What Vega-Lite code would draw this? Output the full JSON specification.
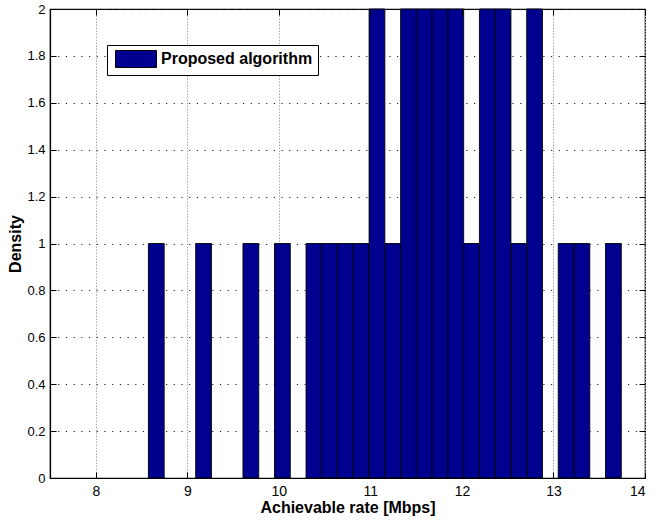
{
  "$schema": "https://vega.github.io/schema/vega-lite/v6.json",
  "width": 595,
  "height": 469,
  "autosize": {"type": "none"},
  "padding": {"left": 50, "top": 9, "right": 9, "bottom": 42},
  "background": "white",
  "config": {
    "font": "Liberation Sans",
    "view": {"stroke": "black", "strokeWidth": 1.2},
    "axis": {
      "labelFont": "Liberation Sans",
      "labelFontSize": 13,
      "labelColor": "black",
      "titleFont": "Liberation Sans",
      "titleFontSize": 16,
      "titleFontWeight": "bold",
      "titleColor": "black",
      "domainColor": "black",
      "domainWidth": 1.2,
      "tickColor": "black",
      "tickWidth": 1
    }
  },
  "data": {
    "values": [
      {"lo": 8.575, "hi": 8.7472, "count": 1, "series": "Proposed algorithm"},
      {"lo": 9.0916, "hi": 9.2638, "count": 1, "series": "Proposed algorithm"},
      {"lo": 9.6082, "hi": 9.7804, "count": 1, "series": "Proposed algorithm"},
      {"lo": 9.9526, "hi": 10.1248, "count": 1, "series": "Proposed algorithm"},
      {"lo": 10.297, "hi": 10.4692, "count": 1, "series": "Proposed algorithm"},
      {"lo": 10.4692, "hi": 10.6414, "count": 1, "series": "Proposed algorithm"},
      {"lo": 10.6414, "hi": 10.8136, "count": 1, "series": "Proposed algorithm"},
      {"lo": 10.8136, "hi": 10.9858, "count": 1, "series": "Proposed algorithm"},
      {"lo": 10.9858, "hi": 11.158, "count": 2, "series": "Proposed algorithm"},
      {"lo": 11.158, "hi": 11.3302, "count": 1, "series": "Proposed algorithm"},
      {"lo": 11.3302, "hi": 11.5024, "count": 2, "series": "Proposed algorithm"},
      {"lo": 11.5024, "hi": 11.6746, "count": 2, "series": "Proposed algorithm"},
      {"lo": 11.6746, "hi": 11.8468, "count": 2, "series": "Proposed algorithm"},
      {"lo": 11.8468, "hi": 12.019, "count": 2, "series": "Proposed algorithm"},
      {"lo": 12.019, "hi": 12.1912, "count": 1, "series": "Proposed algorithm"},
      {"lo": 12.1912, "hi": 12.3634, "count": 2, "series": "Proposed algorithm"},
      {"lo": 12.3634, "hi": 12.5356, "count": 2, "series": "Proposed algorithm"},
      {"lo": 12.5356, "hi": 12.7078, "count": 1, "series": "Proposed algorithm"},
      {"lo": 12.7078, "hi": 12.88, "count": 2, "series": "Proposed algorithm"},
      {"lo": 13.0522, "hi": 13.2244, "count": 1, "series": "Proposed algorithm"},
      {"lo": 13.2244, "hi": 13.3966, "count": 1, "series": "Proposed algorithm"},
      {"lo": 13.5688, "hi": 13.741, "count": 1, "series": "Proposed algorithm"}
    ]
  },
  "layer": [
    {
      "mark": {"type": "bar", "stroke": "black", "strokeWidth": 0.9},
      "encoding": {
        "x": {
          "field": "lo",
          "type": "quantitative",
          "scale": {"domain": [7.5, 14], "nice": false, "zero": false},
          "axis": {
            "title": "Achievable rate [Mbps]",
            "values": [8, 9, 10, 11, 12, 13, 14],
            "format": "d",
            "labelFontSize": 14,
            "tickSize": -6,
            "labelPadding": 12,
            "titlePadding": 1,
            "grid": true,
            "gridColor": "#a8a8a8",
            "gridDash": [1.5, 1.5],
            "gridWidth": 1,
            "zindex": 0
          }
        },
        "x2": {"field": "hi"},
        "y": {
          "field": "count",
          "type": "quantitative",
          "scale": {"domain": [0, 2], "nice": false},
          "axis": {
            "title": "Density",
            "values": [0, 0.2, 0.4, 0.6, 0.8, 1, 1.2, 1.4, 1.6, 1.8, 2],
            "format": "~g",
            "tickSize": -6,
            "labelPadding": 11,
            "titlePadding": 3,
            "grid": true,
            "gridColor": "#222222",
            "gridDash": [1.2, 6.5],
            "gridWidth": 1,
            "zindex": 0
          }
        },
        "y2": {"datum": 0},
        "color": {
          "field": "series",
          "type": "nominal",
          "scale": {"range": ["#00008F"]},
          "legend": {
            "title": null,
            "orient": "none",
            "legendX": 57,
            "legendY": 36,
            "symbolType": "M-2.412,-1H2.412V1H-2.412Z",
            "symbolSize": 289,
            "symbolOffset": 15,
            "symbolStrokeColor": "black",
            "symbolStrokeWidth": 1,
            "symbolOpacity": 1,
            "labelFont": "Liberation Sans",
            "labelFontSize": 16,
            "labelFontWeight": "bold",
            "labelColor": "black",
            "labelOffset": 16,
            "strokeColor": "black",
            "fillColor": "white",
            "padding": 5
          }
        }
      }
    },
    {
      "mark": {"type": "bar", "opacity": 0},
      "encoding": {
        "x": {
          "field": "lo",
          "type": "quantitative",
          "axis": {
            "orient": "top",
            "title": null,
            "labels": false,
            "domain": false,
            "grid": false,
            "values": [8, 9, 10, 11, 12, 13, 14],
            "tickSize": -6,
            "zindex": 1
          }
        },
        "x2": {"field": "hi"},
        "y": {
          "field": "count",
          "type": "quantitative",
          "axis": {
            "orient": "right",
            "title": null,
            "labels": false,
            "domain": false,
            "grid": false,
            "values": [0, 0.2, 0.4, 0.6, 0.8, 1, 1.2, 1.4, 1.6, 1.8, 2],
            "tickSize": -6,
            "zindex": 1
          }
        },
        "y2": {"datum": 0}
      }
    }
  ],
  "resolve": {"axis": {"x": "independent", "y": "independent"}}
}
